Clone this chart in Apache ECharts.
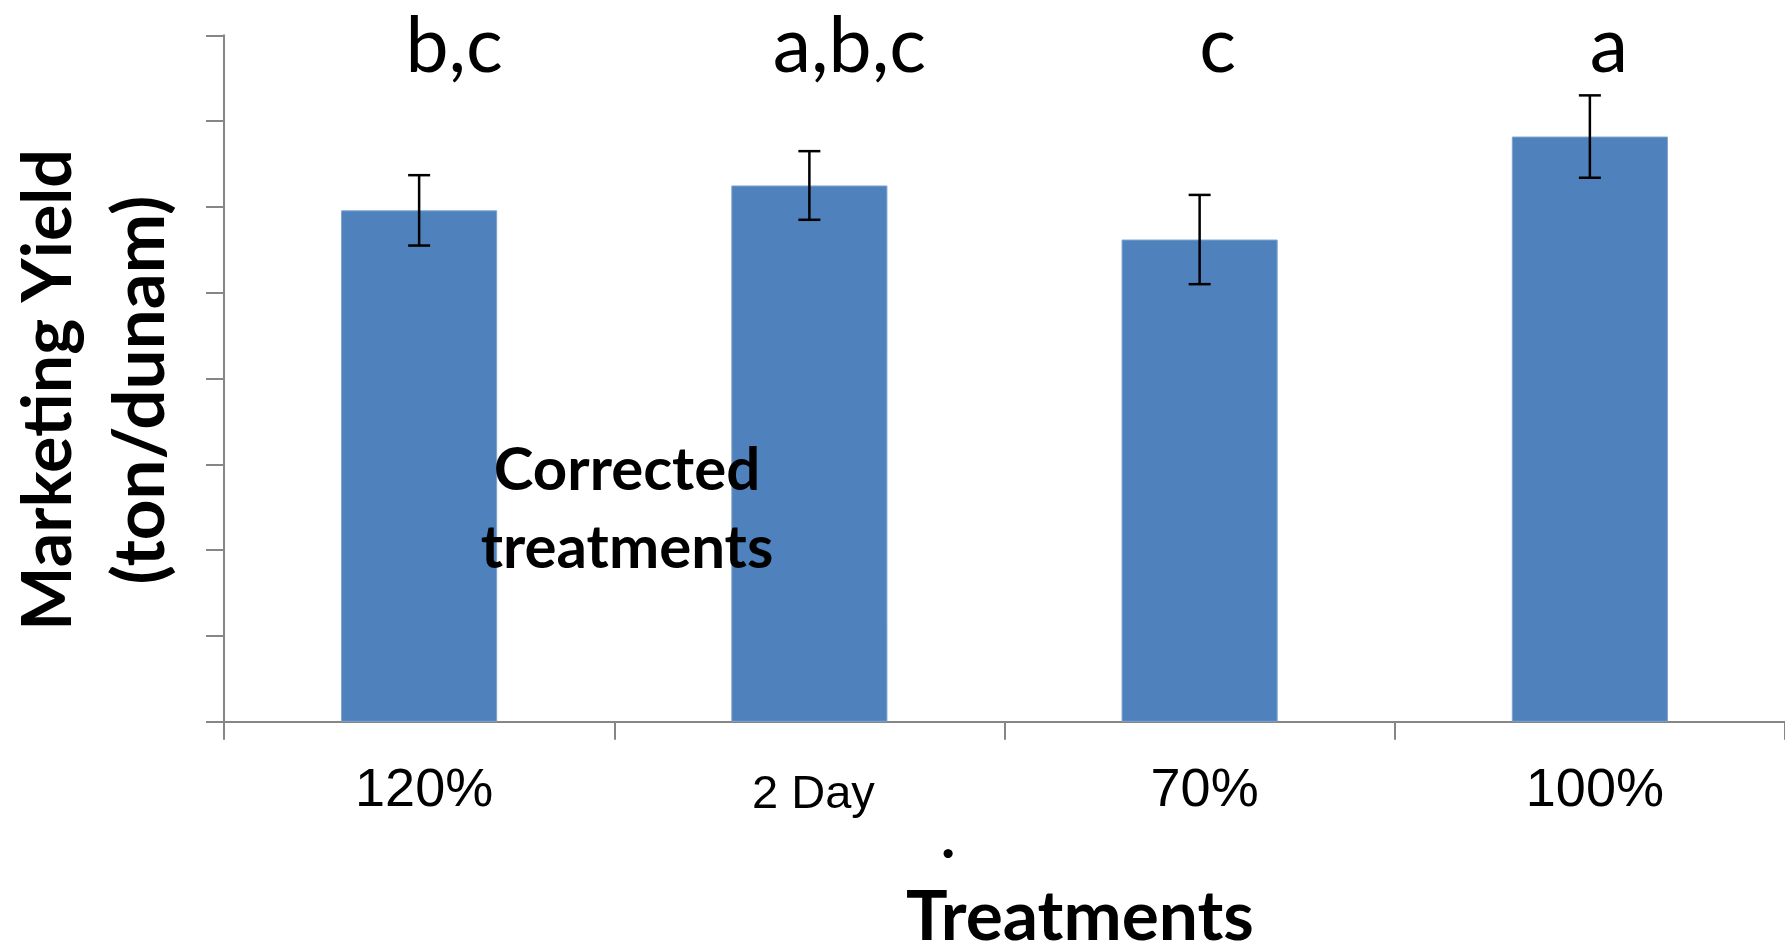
<!DOCTYPE html>
<html><head><meta charset="utf-8">
<script src="https://cdn.jsdelivr.net/npm/echarts@6/dist/echarts.min.js"></script>
<style>html,body{margin:0;padding:0;background:#fff}#c{width:1785px;height:944px}</style>
</head><body><div id="c"></div>
<script>
// ---- data ----
const categories = ['120%', '2 Day', '70%', '100%'];
const yieldMeans = [5.96, 6.25, 5.62, 6.82];
const yieldErrors = [0.41, 0.40, 0.52, 0.48];
const significance = ['b,c', 'a,b,c', 'c', 'a'];
const yMin = 0, yMax = 8, yStep = 1;
const yTitleLines = ['Marketing Yield', '(ton/dunam)'];
const xTitle = 'Treatments';
const noteLines = ['Corrected', 'treatments'];

// ---- styles / layout ----
const axisGray = '#868686';
const barBlue = '#4F81BD';
const letterOffsetX = [35, 40, 18, 19];
const catLabelStyle = { '2 Day': { fontSize: 47, padding: [8, 0, 0, 8] } };

const chart = echarts.init(document.getElementById('c'), null, { renderer: 'canvas' });

const option = {
  animation: false,
  backgroundColor: '#fff',
  grid: { left: 224, top: 35.3, width: 1566, height: 686.5, containLabel: false },
  xAxis: {
    type: 'category',
    data: categories.map(c => catLabelStyle[c] ? { value: c, textStyle: catLabelStyle[c] } : c),
    boundaryGap: true,
    axisLine: { show: true, lineStyle: { color: axisGray, width: 2 } },
    axisTick: { show: true, alignWithLabel: false, length: 18, lineStyle: { color: axisGray, width: 2 } },
    axisLabel: { fontFamily: 'Liberation Sans', fontSize: 54, color: '#000', margin: 42, interval: 0, padding: [0, 0, 0, 10] },
    splitLine: { show: false }
  },
  yAxis: {
    type: 'value', min: yMin, max: yMax, interval: yStep,
    axisLine: { show: true, lineStyle: { color: axisGray, width: 2 } },
    axisTick: { show: true, length: 18, lineStyle: { color: axisGray, width: 2 } },
    axisLabel: { show: false },
    splitLine: { show: false }
  },
  series: [
    {
      type: 'bar',
      data: yieldMeans,
      barWidth: '40%',
      itemStyle: { color: barBlue, borderColor: '#7EA3D0', borderWidth: 1 },
      z: 2
    },
    {
      type: 'custom',
      data: yieldMeans.map((m, i) => [i, m - yieldErrors[i], m + yieldErrors[i]]),
      encode: { x: 0, y: [1, 2] },
      z: 5,
      renderItem: function (params, api) {
        const i = api.value(0);
        const lo = api.coord([i, api.value(1)]);
        const hi = api.coord([i, api.value(2)]);
        const cap = 11;
        const st = { stroke: '#000', lineWidth: 2.5 };
        return {
          type: 'group',
          children: [
            { type: 'line', shape: { x1: lo[0], y1: lo[1], x2: hi[0], y2: hi[1] }, style: st },
            { type: 'line', shape: { x1: lo[0] - cap, y1: lo[1], x2: lo[0] + cap, y2: lo[1] }, style: st },
            { type: 'line', shape: { x1: hi[0] - cap, y1: hi[1], x2: hi[0] + cap, y2: hi[1] }, style: st }
          ]
        };
      }
    },
    {
      type: 'custom',
      data: significance.map((s, i) => [i, yMax]),
      encode: { x: 0, y: 1 },
      z: 6,
      renderItem: function (params, api) {
        const p = api.coord([api.value(0), api.value(1)]);
        const idx = params.dataIndex;
        return {
          type: 'text',
          x: p[0] + letterOffsetX[idx],
          y: p[1] + 12,
          style: {
            text: significance[idx],
            fontFamily: 'Lato', fontSize: 77, fill: '#000',
            align: 'center', verticalAlign: 'middle'
          }
        };
      }
    }
  ],
  graphic: [
    {
      type: 'text', x: 95, y: 390, rotation: Math.PI / 2,
      style: {
        text: '{a|' + yTitleLines[0] + '}\n{b|' + yTitleLines[1] + '}',
        rich: {
          a: { fontFamily: 'Lato', fontWeight: 'bold', fontSize: 68, lineHeight: 92, fill: '#000', align: 'center' },
          b: { fontFamily: 'Lato', fontWeight: 'bold', fontSize: 71, lineHeight: 92, fill: '#000', align: 'center' }
        },
        fill: '#000', align: 'center', verticalAlign: 'middle'
      }
    },
    {
      type: 'text', x: 627, y: 510,
      style: {
        text: noteLines.join('\n'), fontFamily: 'Lato', fontWeight: 'bold', fontSize: 60,
        lineHeight: 78, fill: '#000', align: 'center', verticalAlign: 'middle'
      },
      z: 10
    },
    {
      type: 'text', x: 948, y: 839,
      style: { text: '.', fontFamily: 'Lato', fontWeight: 'bold', fontSize: 60, fill: '#000', align: 'center', verticalAlign: 'middle' }
    },
    {
      type: 'text', x: 1080, y: 918,
      style: { text: xTitle, fontFamily: 'Lato', fontWeight: 'bold', fontSize: 69.5, fill: '#000', align: 'center', verticalAlign: 'middle' }
    }
  ]
};
chart.setOption(option);
</script>
</body></html>
